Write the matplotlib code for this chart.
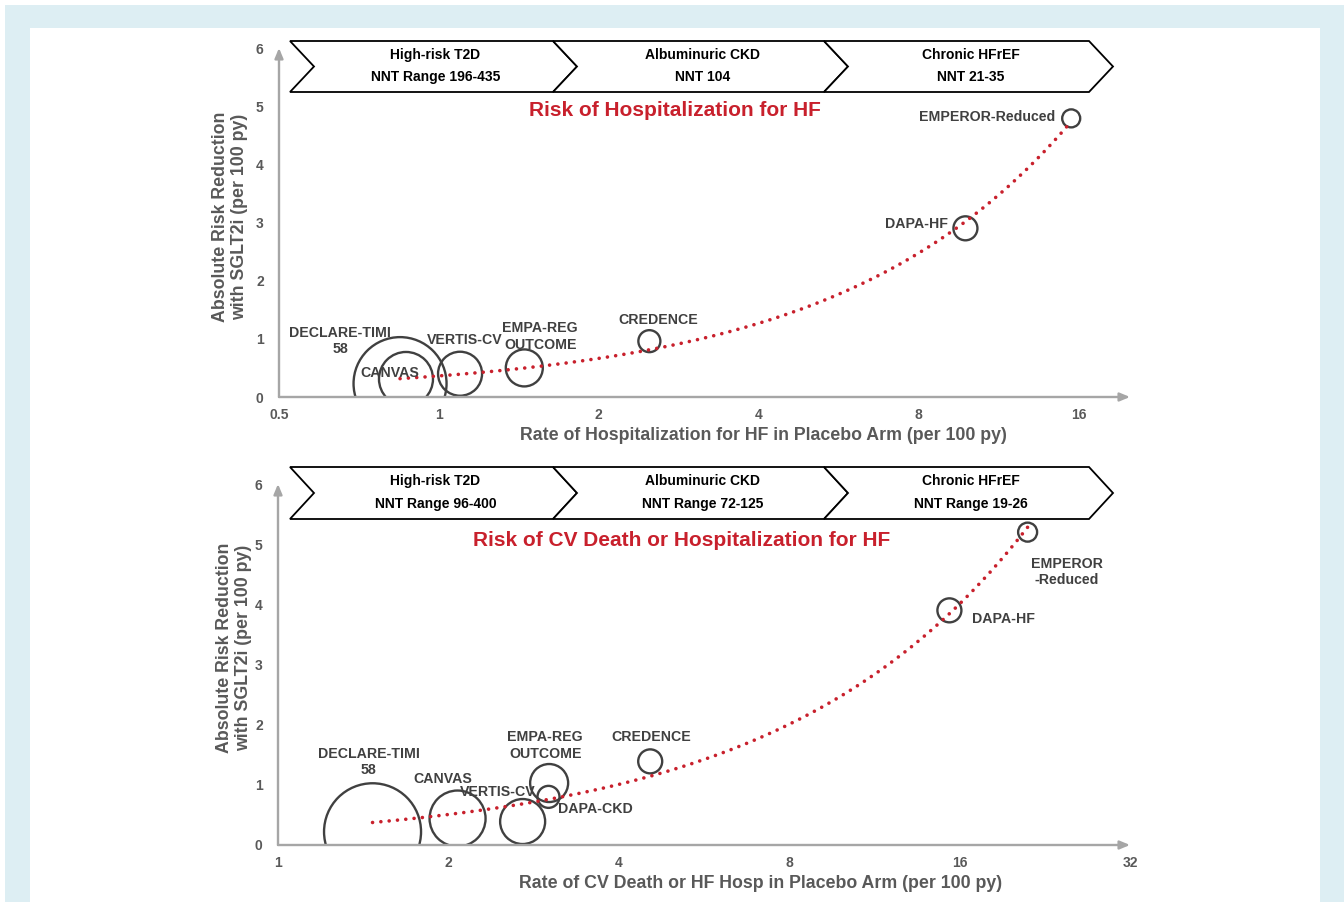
import matplotlib.pyplot as plt
from matplotlib.patches import Polygon, Rectangle
import numpy as np

plt.rcParams['font.family'] = ['Liberation Sans', 'DejaVu Sans']
plt.rcParams['font.weight'] = 'bold'

W, H = 1344, 902

# --- data: hospitalization for HF ---
trials_top = ['DECLARE-TIMI\n58', 'CANVAS', 'VERTIS-CV', 'EMPA-REG\nOUTCOME',
              'CREDENCE', 'DAPA-HF', 'EMPEROR-Reduced']
rate_top = [0.845, 0.867, 1.096, 1.448, 2.49, 9.8, 15.5]
arr_top = [0.23, 0.31, 0.40, 0.50, 0.96, 2.9, 4.79]
bubble_top = [46.5, 27, 22, 18.5, 11, 12, 9]

# --- data: CV death or HF hospitalization ---
trials_bot = ['DECLARE-TIMI\n58', 'CANVAS', 'VERTIS-CV', 'EMPA-REG\nOUTCOME',
              'DAPA-CKD', 'CREDENCE', 'DAPA-HF', 'EMPEROR\n-Reduced']
rate_bot = [1.469, 2.076, 2.705, 3.013, 3.005, 4.545, 15.35, 21.1]
arr_bot = [0.22, 0.44, 0.39, 1.03, 0.80, 1.39, 3.90, 5.2]
bubble_bot = [48.5, 28, 22.5, 19, 11, 12, 12, 9.5]

segments = ['High-risk T2D', 'Albuminuric CKD', 'Chronic HFrEF']
nnt_top = ['NNT Range 196-435', 'NNT 104', 'NNT 21-35']
nnt_bot = ['NNT Range 96-400', 'NNT Range 72-125', 'NNT Range 19-26']

xticks_top = [0.5, 1, 2, 4, 8, 16]
xticks_bot = [1, 2, 4, 8, 16, 32]

GRAY = '#595959'
DARK = '#404040'
RED = '#c8202c'

def fx(x):
    return x / W

def fy(y):
    return 1 - y / H

fig = plt.figure(figsize=(W / 100, H / 100), dpi=100)
fig.patch.set_facecolor('white')
fig.add_artist(Rectangle((fx(5), 0), 1 - fx(5), fy(5), transform=fig.transFigure,
                         facecolor='#ddeef3', edgecolor='none', zorder=-10))
fig.add_artist(Rectangle((fx(30), 0), fx(1320) - fx(30), fy(28), transform=fig.transFigure,
                         facecolor='white', edgecolor='none', zorder=-9))


def panel(rect, xlim, xticks, rate, arr, bubble, names, offsets, aligns,
          banner_y, nnt, title, title_xy, xlabel, xlabel_xy, ylabel_xy):
    l, t, r, b = rect
    ax = fig.add_axes([fx(l), fy(b), fx(r) - fx(l), (b - t) / H])
    ax.set_facecolor('none')
    ax.set_xscale('log', base=2)
    ax.set_xlim(*xlim)
    ax.set_ylim(0, 6)
    for s in ax.spines.values():
        s.set_visible(False)
    ax.set_xticks(xticks)
    ax.set_xticklabels([('%g' % v) for v in xticks])
    ax.xaxis.set_minor_locator(plt.NullLocator())
    ax.set_yticks(range(7))
    ax.tick_params(length=0, labelsize=10, labelcolor=GRAY, pad=8)
    ax.tick_params(axis='y', pad=11)
    for lab in ax.get_xticklabels() + ax.get_yticklabels():
        lab.set_fontweight('bold')

    # axis arrows
    for tip in [(1, 0), (0, 1)]:
        ax.annotate('', xy=tip, xytext=(0, 0), xycoords='axes fraction',
                    arrowprops=dict(arrowstyle='-|>,head_length=0.6,head_width=0.25',
                                    color='#a6a6a6', lw=1.7, shrinkA=0, shrinkB=0))

    # trend line (linear fit)
    k, c = np.polyfit(rate, arr, 1)
    xs = np.geomspace(min(rate), max(rate), 300)
    ax.plot(xs, k * xs + c, color=RED, lw=2.6, linestyle=(0, (0.01, 2.3)),
            dash_capstyle='round', zorder=3)

    # bubbles
    sizes = [(2 * rr * 0.72) ** 2 for rr in bubble]
    ax.scatter(rate, arr, s=sizes, facecolors='none', edgecolors=DARK,
               linewidths=1.7, zorder=2)

    for name, xv, yv, off, ha in zip(names, rate, arr, offsets, aligns):
        ax.annotate(name, xy=(xv, yv), xytext=off, textcoords='offset pixels',
                    ha=ha, va='center', fontsize=10.2, color=DARK, fontweight='bold',
                    linespacing=1.2, zorder=4)

    # chevron banner
    y0, y1 = banner_y
    ym = (y0 + y1) / 2
    edges = [290, 553, 824, 1089]
    d = 24
    for i in range(3):
        a, e = edges[i], edges[i + 1]
        pts = [(a, y0), (e, y0), (e + d, ym), (e, y1), (a, y1), (a + d, ym)]
        fig.add_artist(Polygon([(fx(px), fy(py)) for px, py in pts], closed=True,
                               transform=fig.transFigure, facecolor='white',
                               edgecolor='black', lw=1.3, zorder=5))
        cx = (a + e) / 2 + d / 2 + 2
        fig.text(fx(cx), fy(y0 + 14), segments[i], ha='center', va='center',
                 fontsize=10, color='black', fontweight='bold', zorder=6)
        fig.text(fx(cx), fy(y1 - 15), nnt[i], ha='center', va='center',
                 fontsize=10, color='black', fontweight='bold', zorder=6)

    fig.text(fx(title_xy[0]), fy(title_xy[1]), title, ha='center', va='center',
             fontsize=15, color=RED, fontweight='bold')
    fig.text(fx(xlabel_xy[0]), fy(xlabel_xy[1]), xlabel, ha='center', va='center',
             fontsize=12.8, color=GRAY, fontweight='bold')
    fig.text(fx(ylabel_xy[0]), fy(ylabel_xy[1]),
             'Absolute Risk Reduction\nwith SGLT2i (per 100 py)', ha='center',
             va='center', rotation=90, fontsize=12.8, color=GRAY, fontweight='bold',
             linespacing=1.1)
    return ax


panel((279, 48, 1130, 397), (0.5, 20), xticks_top, rate_top, arr_top, bubble_top,
      trials_top,
      [(-60, 43), (-16, 6), (5, 34), (16, 31.5), (9, 21), (-17, 4), (-16, 1)],
      ['center', 'center', 'center', 'center', 'center', 'right', 'right'],
      (41, 92), nnt_top, 'Risk of Hospitalization for HF', (675, 110),
      'Rate of Hospitalization for HF in Placebo Arm (per 100 py)', (763, 436),
      (230, 217))

panel((278, 484, 1130, 845), (1, 32), xticks_bot, rate_bot, arr_bot, bubble_bot,
      trials_bot,
      [(-4, 70), (-15, 39.5), (-25, 29.5), (-4, 37.5), (9.5, -12), (1, 24.5),
       (23, -9), (39, -39.5)],
      ['center', 'center', 'center', 'center', 'left', 'center', 'left', 'center'],
      (467, 519), nnt_bot, 'Risk of CV Death or Hospitalization for HF', (682, 540),
      'Rate of CV Death or HF Hosp in Placebo Arm (per 100 py)', (761, 884),
      (234, 648))

fig.savefig('out.png', dpi=100)
